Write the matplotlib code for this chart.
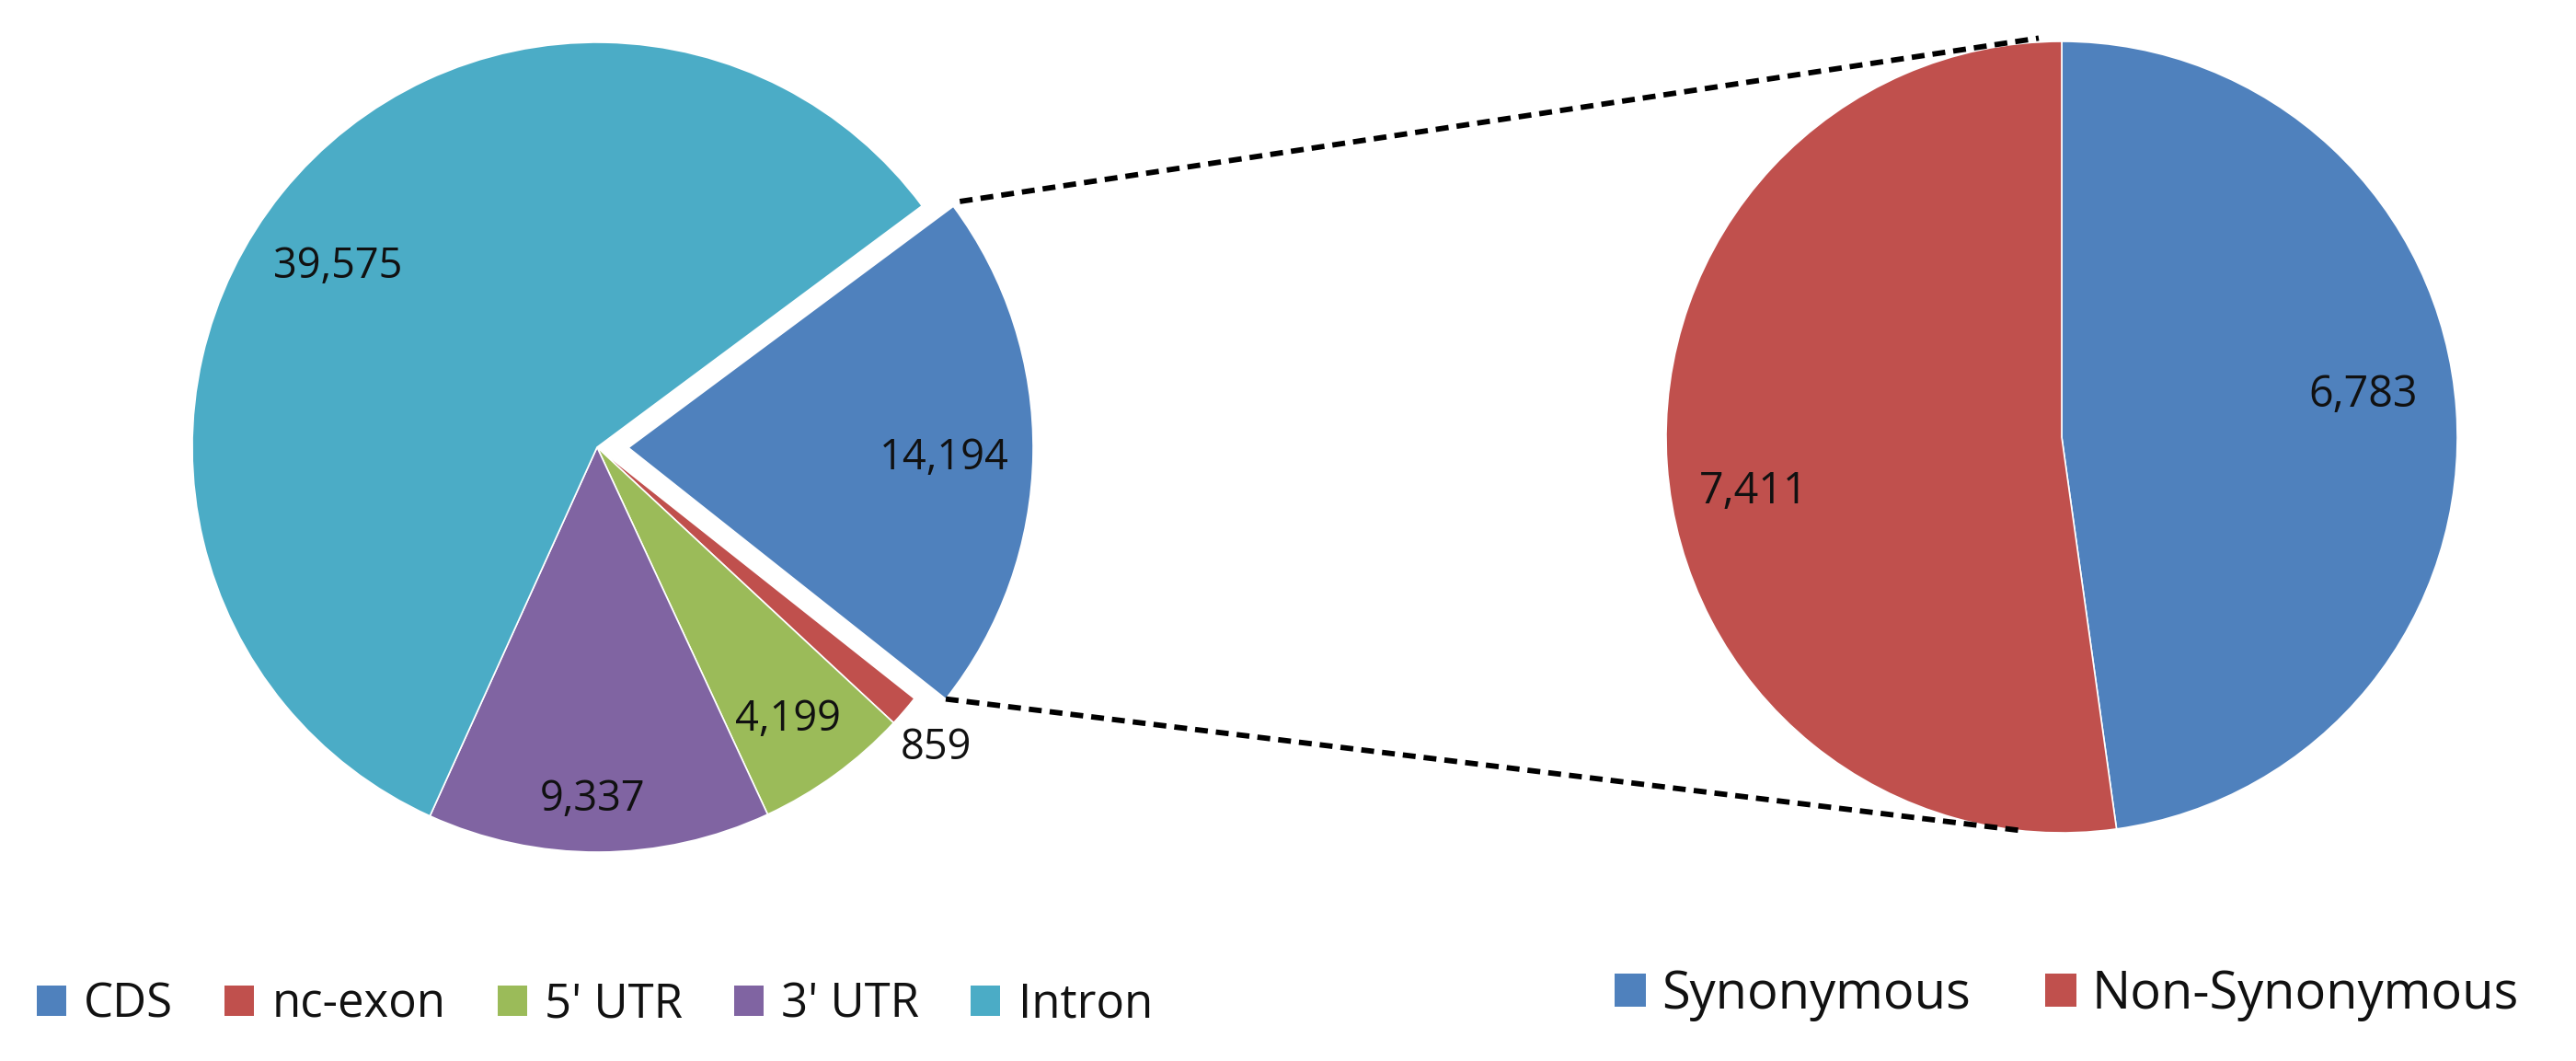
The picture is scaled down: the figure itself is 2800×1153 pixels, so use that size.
import matplotlib
matplotlib.use('Agg')
import matplotlib.pyplot as plt
from matplotlib.patches import Patch
import numpy as np

plt.rcParams['font.family'] = ['Open Sans', 'DejaVu Sans']

# ---- data ----
regions = ['CDS', 'nc-exon', "5' UTR", "3' UTR", 'Intron']
region_counts = [14194, 859, 4199, 9337, 39575]
region_colors = ['#4F81BD', '#C0504D', '#9BBB59', '#8064A2', '#4BACC6']

cds_types = ['Synonymous', 'Non-Synonymous']
cds_counts = [6783, 7411]
cds_colors = ['#4F81BD', '#C0504D']

# ---- layout (pixel coordinates) ----
W, H = 2800, 1153
fig = plt.figure(figsize=(W / 100, H / 100), dpi=100)
ax = fig.add_axes([0, 0, 1, 1])

left_center = (649, H - 486)
left_r = 440
right_center = (2241, H - 475)
right_r = 430

wp = dict(edgecolor='white', linewidth=1.2)
wl, _ = ax.pie(region_counts, colors=region_colors, startangle=36.6,
               counterclock=False, radius=left_r, center=left_center,
               explode=[34, 0, 0, 0, 0], wedgeprops=wp)
wr, _ = ax.pie(cds_counts, colors=cds_colors, startangle=90,
               counterclock=False, radius=right_r, center=right_center,
               wedgeprops=wp)

ax.set_xlim(0, W)
ax.set_ylim(0, H)
ax.set_aspect('equal')
ax.axis('off')


def place_labels(wedges, values, fracs, dang, size):
    for w, v, f, da in zip(wedges, values, fracs, dang):
        ang = np.deg2rad(0.5 * (w.theta1 + w.theta2) + da)
        cx, cy = w.center
        ax.text(cx + f * w.r * np.cos(ang), cy + f * w.r * np.sin(ang),
                f"{v:,}", ha='center', va='center', fontsize=size,
                color='#111111')


place_labels(wl, region_counts, [0.78, 1.12, 0.82, 0.87, 0.78],
             [-1, -1, -1, -1, 4], 32.5)
place_labels(wr, cds_counts, [0.77, 0.79], [4, 6], 33.5)

# ---- connector lines ----
cds = wl[0]
cx, cy = cds.center


def pt(c, r, a):
    a = np.deg2rad(a)
    return c[0] + r * np.cos(a), c[1] + r * np.sin(a)


p_up = pt((cx, cy), cds.r * 1.02, cds.theta2)
p_lo = pt((cx, cy), cds.r * 1.0, cds.theta1)
q_up = pt(right_center, right_r * 1.01, 93.3)
q_lo = pt(right_center, right_r * 1.0, -95.2)
for a, b in [(p_up, q_up), (p_lo, q_lo)]:
    ax.plot([a[0], b[0]], [a[1], b[1]], color='black', lw=4.2,
            linestyle=(0, (2.4, 1.5)), solid_capstyle='butt',
            dash_capstyle='butt')

# ---- legends ----
fig.legend(handles=[Patch(facecolor=c) for c in region_colors], labels=regions,
           ncol=5, loc='center left', bbox_to_anchor=(40 / W, (H - 1092) / H),
           frameon=False, fontsize=36.6, handlelength=0.63, handleheight=0.63,
           handletextpad=0.38, columnspacing=1.1, borderpad=0, borderaxespad=0,
           labelcolor='#111111')
fig.legend(handles=[Patch(facecolor=c) for c in cds_colors], labels=cds_types,
           ncol=2, loc='center left', bbox_to_anchor=(1755 / W, (H - 1081) / H),
           frameon=False, fontsize=40.3, handlelength=0.61, handleheight=0.61,
           handletextpad=0.3, columnspacing=1.45, borderpad=0, borderaxespad=0,
           labelcolor='#111111')

fig.savefig('out.png', dpi=100, facecolor='white')
